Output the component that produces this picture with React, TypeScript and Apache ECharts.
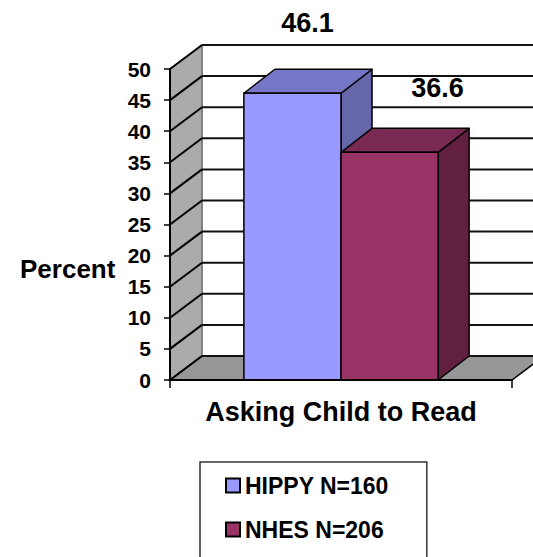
import React, { useEffect, useRef } from "react";
import * as echarts from "echarts";

const categories = ["Asking Child to Read"];
const seriesNames = ["HIPPY N=160", "NHES N=206"];
const hippyValues = [46.1];
const nhesValues = [36.6];
const yTicks = [0, 5, 10, 15, 20, 25, 30, 35, 40, 45, 50];

const FONT = '"Liberation Sans", Arial, Helvetica, sans-serif';
const WALL_DX = 32;
const WALL_DY = 24;
const BAR_DX = 31;
const BAR_DY = 24;
const BAR_FRAC = 0.284;

const looks = [
  { front: "#9999FF", top: "#7777C8", side: "#6666AA", labelDx: 15, labelDy: -70 },
  { front: "#993366", top: "#7A2952", side: "#612040", labelDx: 48, labelDy: -64 },
];

function barRenderer(idx: number) {
  const look = looks[idx];
  return (params: any, api: any) => {
    const cat = api.value(0);
    const val = api.value(1);
    const band = api.size([1, 0])[0];
    const w = band * BAR_FRAC;
    const [cx, yTop] = api.coord([cat, val]);
    const yBase = api.coord([cat, 0])[1];
    const x0 = idx === 0 ? cx - w : cx;
    const x1 = x0 + w;
    const stroke = { stroke: "#000", lineWidth: 1.5, lineJoin: "round" };
    return {
      type: "group",
      children: [
        {
          type: "polygon",
          shape: {
            points: [
              [x1, yBase],
              [x1, yTop],
              [x1 + BAR_DX, yTop - BAR_DY],
              [x1 + BAR_DX, yBase - BAR_DY],
            ],
          },
          style: { fill: look.side, ...stroke },
        },
        {
          type: "polygon",
          shape: {
            points: [
              [x0, yTop],
              [x1, yTop],
              [x1 + BAR_DX, yTop - BAR_DY],
              [x0 + BAR_DX, yTop - BAR_DY],
            ],
          },
          style: { fill: look.top, ...stroke },
        },
        {
          type: "rect",
          shape: { x: x0, y: yTop, width: w, height: yBase - yTop },
          style: { fill: look.front, ...stroke },
        },
        {
          type: "text",
          style: {
            text: String(val),
            x: (x0 + x1) / 2 + look.labelDx,
            y: yTop + look.labelDy,
            fill: "#000",
            fontSize: 27,
            fontWeight: "bold",
            fontFamily: FONT,
            align: "center",
            verticalAlign: "middle",
          },
        },
      ],
    };
  };
}

function wallRenderer(params: any, api: any) {
  const cs = params.coordSys;
  const xL = cs.x;
  const xR = cs.x + cs.width;
  const y0 = api.coord([0, 0])[1];
  const yMax = api.coord([0, yTicks[yTicks.length - 1]])[1];
  return {
    type: "group",
    children: [
      {
        type: "rect",
        shape: { x: xL + WALL_DX, y: yMax - WALL_DY, width: xR - xL + 40, height: y0 - yMax },
        style: { fill: "#FFFFFF" },
      },
      {
        type: "polygon",
        shape: {
          points: [
            [xL, y0],
            [xL, yMax],
            [xL + WALL_DX, yMax - WALL_DY],
            [xL + WALL_DX, y0 - WALL_DY],
          ],
        },
        style: { fill: "#ABABAB", stroke: "#555", lineWidth: 1 },
      },
      {
        type: "polygon",
        shape: {
          points: [
            [xL, y0],
            [xR, y0],
            [xR + WALL_DX, y0 - WALL_DY],
            [xL + WALL_DX, y0 - WALL_DY],
          ],
        },
        style: { fill: "#979797", stroke: "#000", lineWidth: 1.5 },
      },
      {
        type: "line",
        shape: { x1: xL + WALL_DX, y1: yMax - WALL_DY, x2: xL + WALL_DX, y2: y0 - WALL_DY },
        style: { stroke: "#7A7A7A", lineWidth: 1.5 },
      },
    ],
  };
}

function gridRenderer(params: any, api: any) {
  const cs = params.coordSys;
  const xL = cs.x;
  const xR = cs.x + cs.width;
  const y = api.coord([0, api.value(1)])[1];
  return {
    type: "group",
    children: [
      {
        type: "line",
        shape: { x1: xL, y1: y, x2: xL + WALL_DX, y2: y - WALL_DY },
        style: { stroke: "#000", lineWidth: 2 },
      },
      {
        type: "line",
        shape: { x1: xL + WALL_DX, y1: y - WALL_DY, x2: xR + WALL_DX + 10, y2: y - WALL_DY },
        style: { stroke: "#111", lineWidth: 2 },
      },
    ],
  };
}

export default function App() {
  const ref = useRef<HTMLDivElement>(null);
  useEffect(() => {
    if (!ref.current) return;
    const chart = echarts.init(ref.current, undefined, { renderer: "svg" });
    const textBase = { fontFamily: FONT, fontWeight: "bold" as const, color: "#000" };
    chart.setOption({
      animation: false,
      backgroundColor: "#FFFFFF",
      grid: { left: 170, right: 21, top: 69, bottom: 177, containLabel: false },
      xAxis: {
        type: "category",
        data: categories,
        z: 10,
        axisLine: { show: true, lineStyle: { color: "#000", width: 2 } },
        axisTick: { show: true, length: 8, lineStyle: { color: "#000", width: 1.5 } },
        axisLabel: { ...textBase, fontSize: 27, margin: 18 },
        splitLine: { show: false },
      },
      yAxis: {
        type: "value",
        min: 0,
        max: 50,
        interval: 5,
        z: 10,
        axisLine: { show: true, lineStyle: { color: "#000", width: 2 } },
        axisTick: { show: true, length: 6, lineStyle: { color: "#000", width: 1.5 } },
        axisLabel: { ...textBase, fontSize: 21, margin: 19 },
        splitLine: { show: false },
      },
      legend: {
        orient: "vertical",
        left: 200,
        top: 462,
        height: 140,
        padding: [12, 38, 24, 25],
        itemGap: 21,
        itemWidth: 14,
        itemHeight: 14,
        icon: "rect",
        borderColor: "#333",
        borderWidth: 1.5,
        textStyle: { ...textBase, fontSize: 23 },
        data: [
          { name: seriesNames[0], itemStyle: { color: looks[0].front, borderColor: "#000", borderWidth: 2 } },
          { name: seriesNames[1], itemStyle: { color: looks[1].front, borderColor: "#000", borderWidth: 2 } },
        ],
      },
      graphic: [
        {
          type: "text",
          left: 20,
          top: 256,
          style: { text: "Percent", fill: "#000", fontSize: 26, fontWeight: "bold", fontFamily: FONT },
        },
      ],
      series: [
        {
          type: "custom",
          name: "wall",
          z: 1,
          silent: true,
          renderItem: wallRenderer,
          data: [[0, 0]],
        },
        {
          type: "custom",
          name: "grid",
          z: 1,
          silent: true,
          renderItem: gridRenderer,
          data: yTicks.map((v) => [0, v]),
        },
        {
          type: "custom",
          name: seriesNames[0],
          z: 3,
          itemStyle: { color: looks[0].front },
          renderItem: barRenderer(0),
          data: categories.map((_, i) => [i, hippyValues[i]]),
        },
        {
          type: "custom",
          name: seriesNames[1],
          z: 3,
          itemStyle: { color: looks[1].front },
          renderItem: barRenderer(1),
          data: categories.map((_, i) => [i, nhesValues[i]]),
        },
      ],
    });
    return () => chart.dispose();
  }, []);
  return (
    <div
      ref={ref}
      style={{ position: "absolute", left: 0, top: 0, width: 533, height: 557 }}
    />
  );
}
